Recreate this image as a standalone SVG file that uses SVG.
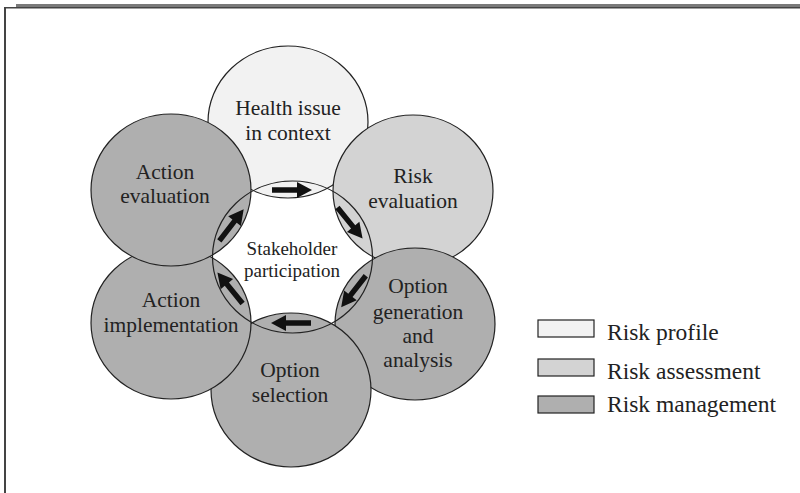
<svg xmlns="http://www.w3.org/2000/svg" width="800" height="493" viewBox="0 0 800 493">
<defs>
<style>
.c{stroke:#222;stroke-width:1.2}
.p{fill:#f2f2f2}
.a{fill:#d3d3d3}
.m{fill:#afafaf}
.t{font-family:"Liberation Serif","Times New Roman",serif;font-size:21.5px;fill:#222;text-anchor:middle}
.s{font-size:19px}
.l{font-family:"Liberation Serif","Times New Roman",serif;font-size:23.5px;fill:#222}
.ar{fill:#111}
</style>
<path id="arr" d="M-20,-2.7 H5 V-8 L20,0 L5,8 V2.7 H-20 Z"/>
</defs>
<rect width="800" height="493" fill="#fff"/>
<g id="frame">
<rect x="16" y="4" width="784" height="3.2" fill="#7a7a7a"/>
<line x1="4" y1="7.8" x2="800" y2="7.8" stroke="#444" stroke-width="1.6"/>
<line x1="5" y1="7" x2="5" y2="493" stroke="#444" stroke-width="2"/>
</g>
<g id="health"><ellipse class="c p" cx="288" cy="122" rx="80" ry="76"/></g>
<g id="riskeval"><ellipse class="c a" cx="413" cy="191" rx="80" ry="76"/></g>
<g id="optgen"><ellipse class="c m" cx="415" cy="324" rx="80" ry="76"/></g>
<g id="optsel"><ellipse class="c m" cx="291" cy="390" rx="80" ry="77"/></g>
<g id="actimpl"><ellipse class="c m" cx="171" cy="323" rx="80" ry="76"/></g>
<g id="acteval"><ellipse class="c m" cx="171" cy="190" rx="80" ry="76"/></g>
<g id="stakeholder"><ellipse class="c" fill="none" cx="292.5" cy="257" rx="80" ry="76"/></g>
<g id="connectors" class="ar">
<use href="#arr" transform="translate(292,190)"/>
<use href="#arr" transform="translate(350,223) rotate(51)"/>
<use href="#arr" transform="translate(353.5,291.5) rotate(128)"/>
<use href="#arr" transform="translate(291,323) rotate(180)"/>
<use href="#arr" transform="translate(230,288) rotate(231)"/>
<use href="#arr" transform="translate(231.5,225) rotate(-52.5)"/>
</g>
<g id="labels">
<text class="t" x="288" y="115">Health issue</text>
<text class="t" x="288" y="140">in context</text>
<text class="t" x="413" y="183">Risk</text>
<text class="t" x="413" y="208">evaluation</text>
<text class="t" x="418" y="293">Option</text>
<text class="t" x="418" y="319">generation</text>
<text class="t" x="418" y="343">and</text>
<text class="t" x="418" y="367">analysis</text>
<text class="t" x="290" y="377">Option</text>
<text class="t" x="290" y="402">selection</text>
<text class="t" x="171" y="307">Action</text>
<text class="t" x="171" y="332">implementation</text>
<text class="t" x="165" y="179">Action</text>
<text class="t" x="165" y="203">evaluation</text>
<text class="t s" x="292" y="255">Stakeholder</text>
<text class="t s" x="292" y="277">participation</text>
</g>
<g id="legend">
<rect class="c p" x="538" y="320" width="56" height="17"/>
<rect class="c a" x="538" y="359" width="56" height="17"/>
<rect class="c m" x="538" y="396" width="56" height="17"/>
<text class="l" x="607" y="340">Risk profile</text>
<text class="l" x="607" y="379">Risk assessment</text>
<text class="l" x="607" y="412">Risk management</text>
</g>
</svg>
